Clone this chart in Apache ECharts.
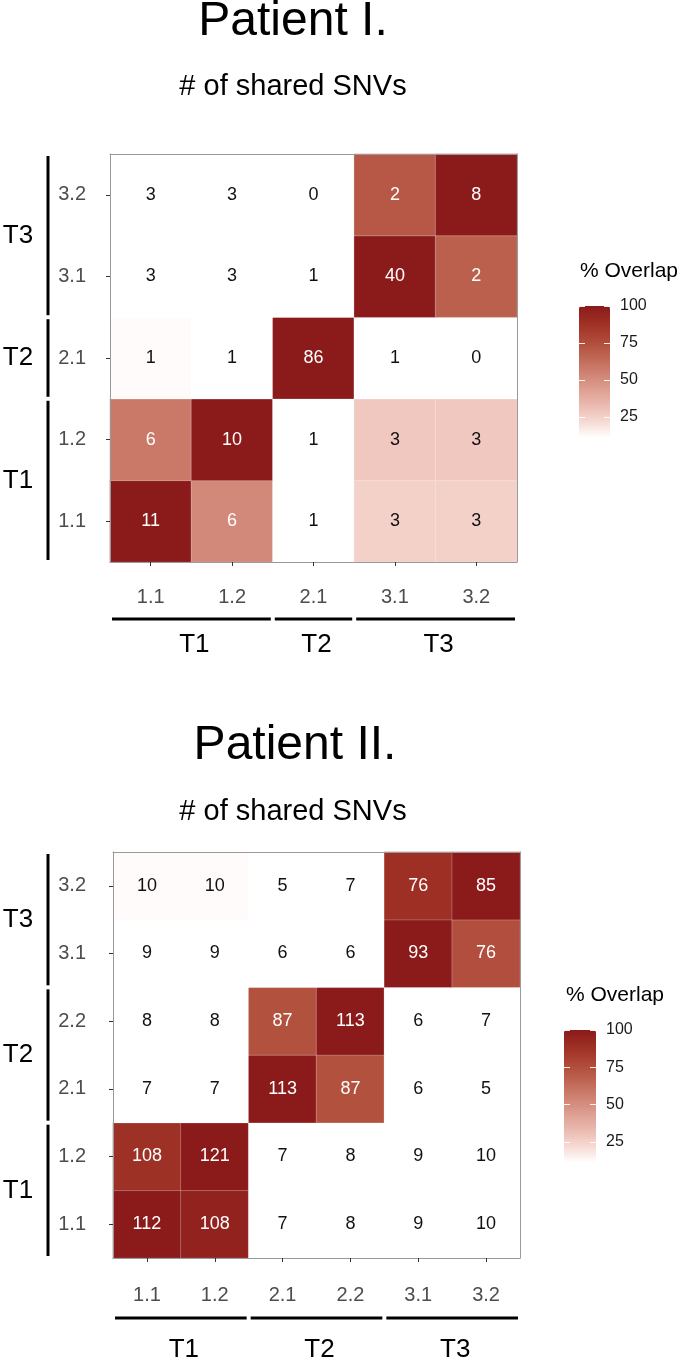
<!DOCTYPE html>
<html>
<head>
<meta charset="utf-8">
<script src="https://cdn.jsdelivr.net/npm/echarts@6.0.0/dist/echarts.min.js"></script>
<style>
  html, body { margin: 0; padding: 0; background: #ffffff; }
  #chart { width: 685px; height: 1361px; }
</style>
</head>
<body>
<div id="chart"></div>
<script>
// ---------------- DATA ----------------
// Patient I: categories (bottom-to-top on y, left-to-right on x)
const catsI = ['1.1', '1.2', '2.1', '3.1', '3.2'];
// # of shared SNVs, rows from bottom (1.1) to top (3.2)
const sharedI = [
  [11, 6, 1, 3, 3],
  [6, 10, 1, 3, 3],
  [1, 1, 86, 1, 0],
  [3, 3, 1, 40, 2],
  [3, 3, 0, 2, 8]
];
// % overlap (fill colour), null = uncoloured
const overlapI = [
  [100, 52, null, 25, 25],
  [58, 100, null, 28, 28],
  [12, null, 100, null, null],
  [null, null, null, 100, 68],
  [null, null, null, 71, 100]
];
const groupsI = [
  { name: 'T1', from: '1.1', to: '1.2' },
  { name: 'T2', from: '2.1', to: '2.1' },
  { name: 'T3', from: '3.1', to: '3.2' }
];

// Patient II
const catsII = ['1.1', '1.2', '2.1', '2.2', '3.1', '3.2'];
const sharedII = [
  [112, 108, 7, 8, 9, 10],
  [108, 121, 7, 8, 9, 10],
  [7, 7, 113, 87, 6, 5],
  [8, 8, 87, 113, 6, 7],
  [9, 9, 6, 6, 93, 76],
  [10, 10, 5, 7, 76, 85]
];
const overlapII = [
  [100, 96, null, null, null, null],
  [88, 100, null, null, null, null],
  [null, null, 100, 74, null, null],
  [null, null, 74, 100, null, null],
  [null, null, null, null, 100, 75],
  [12, 12, null, null, 89, 100]
];
const groupsII = [
  { name: 'T1', from: '1.1', to: '1.2' },
  { name: 'T2', from: '2.1', to: '2.2' },
  { name: 'T3', from: '3.1', to: '3.2' }
];

const titlesI = ['Patient I.', '# of shared SNVs'];
const titlesII = ['Patient II.', '# of shared SNVs'];
const legendTitle = '% Overlap';
const legendTicks = [25, 50, 75, 100];
const overlapMin = 11.5;
const overlapMax = 100;

// ---------------- STYLE ----------------
const FONT = '"Liberation Sans", Arial, Helvetica, sans-serif';
const scaleColors = ['#fffdfc', '#f5d8d1', '#eab8ae', '#dc9c8e', '#cd7f70',
                     '#bd6350', '#ae4736', '#9d2f24', '#8b1a1a'];

function buildData(cats, shared, overlap) {
  const out = [];
  for (let r = 0; r < cats.length; r++) {
    for (let c = 0; c < cats.length; c++) {
      const ov = overlap[r][c];
      out.push({
        value: [c, r, ov == null ? -1 : ov, shared[r][c]],
        label: { color: (ov != null && ov >= 45) ? '#ffffff' : '#111111' }
      });
    }
  }
  return out;
}

const gridI = { left: 110, top: 154, width: 407, height: 408 };
const gridII = { left: 113, top: 852, width: 407, height: 406 };
const legI = { left: 579, top: 306, width: 31, height: 131 };
const legII = { left: 564, top: 1030, width: 32, height: 132 };

function mainX(cats, gridIndex, margin) {
  return [{
    type: 'category', data: cats, gridIndex: gridIndex, position: 'bottom', z: 5,
    axisLine: { show: true, lineStyle: { color: '#9a9a9a', width: 1 } },
    axisTick: { show: true, alignWithLabel: true, length: 4, lineStyle: { color: '#333333' } },
    axisLabel: { color: '#4d4d4d', fontSize: 20, fontFamily: FONT, margin: margin },
    splitLine: { show: false }
  }, {
    type: 'category', data: cats, gridIndex: gridIndex, position: 'top', z: 5,
    axisLine: { show: true, lineStyle: { color: '#9a9a9a', width: 1 } },
    axisTick: { show: false }, axisLabel: { show: false }, splitLine: { show: false }
  }];
}
function mainY(cats, gridIndex, margin) {
  return [{
    type: 'category', data: cats, gridIndex: gridIndex, position: 'left', z: 5,
    axisLine: { show: true, lineStyle: { color: '#9a9a9a', width: 1 } },
    axisTick: { show: true, alignWithLabel: true, length: 4, lineStyle: { color: '#333333' } },
    axisLabel: { color: '#4d4d4d', fontSize: 20, fontFamily: FONT, margin: margin },
    splitLine: { show: false }
  }, {
    type: 'category', data: cats, gridIndex: gridIndex, position: 'right', z: 5,
    axisLine: { show: true, lineStyle: { color: '#9a9a9a', width: 1 } },
    axisTick: { show: false }, axisLabel: { show: false }, splitLine: { show: false }
  }];
}
function legendY(gridIndex) {
  const base = {
    type: 'value', gridIndex: gridIndex, min: overlapMin, max: overlapMax, z: 10,
    axisLine: { show: false }, splitLine: { show: false }
  };
  return [
    Object.assign({}, base, {
      position: 'left',
      axisTick: { show: true, inside: true, length: 6, customValues: legendTicks,
                  lineStyle: { color: 'rgba(255,255,255,0.9)', width: 1 } },
      axisLabel: { show: false }
    }),
    Object.assign({}, base, {
      position: 'right',
      axisTick: { show: true, inside: true, length: 6, customValues: legendTicks,
                  lineStyle: { color: 'rgba(255,255,255,0.9)', width: 1 } },
      axisLabel: { show: true, customValues: legendTicks, color: '#1a1a1a',
                   fontSize: 16, fontFamily: FONT, margin: 10 }
    })
  ];
}

const heatBase = {
  type: 'heatmap',
  itemStyle: { borderColor: 'rgba(255,255,255,0.25)', borderWidth: 1 },
  label: { show: true, fontSize: 18, fontFamily: FONT,
           formatter: function (p) { return String(p.value[3]); } },
  emphasis: { disabled: true },
  silent: true
};

function vm(seriesIndex, box) {
  return {
    type: 'continuous', seriesIndex: seriesIndex, dimension: 2,
    min: overlapMin, max: overlapMax, range: [11.9, overlapMax],
    inRange: { color: scaleColors }, outOfRange: { color: ['#ffffff'] },
    calculable: false, hoverLink: false, orient: 'vertical', padding: 0,
    indicatorSize: 0,
    left: box.left, top: box.top, itemWidth: box.width, itemHeight: box.height,
    text: null
  };
}

const option = {
  animation: false,
  backgroundColor: '#ffffff',
  grid: [
    Object.assign({ containLabel: false }, gridI),
    Object.assign({ containLabel: false }, gridII),
    Object.assign({ containLabel: false }, legI),
    Object.assign({ containLabel: false }, legII)
  ],
  xAxis: [].concat(
    mainX(catsI, 0, 25),
    mainX(catsII, 1, 27),
    [{ type: 'value', gridIndex: 2, show: false, min: 0, max: 1 },
     { type: 'value', gridIndex: 3, show: false, min: 0, max: 1 }]
  ),
  yAxis: [].concat(
    mainY(catsI, 0, 24),
    mainY(catsII, 1, 27),
    legendY(2),
    legendY(3)
  ),
  visualMap: [vm(0, legI), vm(1, legII)],
  series: [
    Object.assign({}, heatBase, { xAxisIndex: 0, yAxisIndex: 0,
      data: buildData(catsI, sharedI, overlapI) }),
    Object.assign({}, heatBase, { xAxisIndex: 2, yAxisIndex: 2,
      data: buildData(catsII, sharedII, overlapII) })
  ]
};

const chart = echarts.init(document.getElementById('chart'), null, { renderer: 'canvas' });
chart.setOption(option);

// ---------------- annotations: titles, legend titles, group brackets ----------------
function text(str, x, y, size, align, color) {
  return { type: 'text', x: x, y: y, z: 20, silent: true,
           style: { text: str, fontSize: size, fontFamily: FONT, fill: color || '#000000',
                    align: align || 'center', verticalAlign: 'middle' } };
}
function line(x1, y1, x2, y2) {
  return { type: 'line', z: 20, silent: true,
           shape: { x1: x1, y1: y1, x2: x2, y2: y2 },
           style: { stroke: '#000000', lineWidth: 3 } };
}
function brackets(xIdx, yIdx, cats, groups, vx, vLabelX, hy, hLabelY) {
  const els = [];
  const px = function (c) { return chart.convertToPixel({ xAxisIndex: xIdx }, c); };
  const py = function (c) { return chart.convertToPixel({ yAxisIndex: yIdx }, c); };
  const sx = (px(cats[1]) - px(cats[0])) / 2;
  const sy = Math.abs(py(cats[1]) - py(cats[0])) / 2;
  const gap = 2;
  groups.forEach(function (g) {
    const x1 = px(g.from) - sx + gap, x2 = px(g.to) + sx - gap;
    els.push(line(x1, hy, x2, hy));
    els.push(text(g.name, (x1 + x2) / 2 + 3, hLabelY, 26, 'center'));
    const y1 = py(g.from) + sy - gap, y2 = py(g.to) - sy + gap;
    els.push(line(vx, y1, vx, y2));
    els.push(text(g.name, vLabelX, (y1 + y2) / 2, 26, 'center'));
  });
  return els;
}

const graphics = [].concat(
  [text(titlesI[0], 293, 22, 48), text(titlesI[1], 293, 87, 29),
   text(titlesII[0], 295, 746, 48), text(titlesII[1], 293, 812, 29),
   text(legendTitle, 580, 271, 21, 'left'), text(legendTitle, 566, 995, 21, 'left')],
  brackets(0, 0, catsI, groupsI, 48, 18, 619, 645),
  brackets(2, 2, catsII, groupsII, 48, 18, 1318, 1350)
);
chart.setOption({ graphic: graphics });
</script>
</body>
</html>
